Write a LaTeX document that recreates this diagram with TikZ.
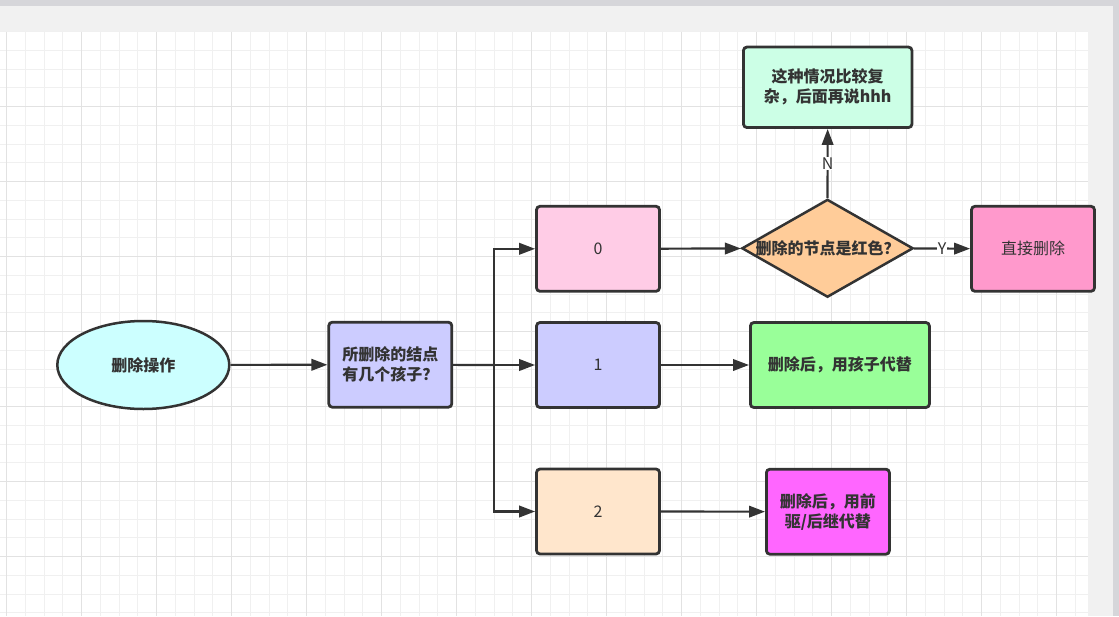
\documentclass[tikz,border=0pt]{standalone}
\usepackage{fontspec}
\newfontfamily\cjk{Noto Sans CJK SC}
\usetikzlibrary{arrows.meta,shapes.geometric,positioning,calc}
\definecolor{lineC}{HTML}{333333}
\definecolor{frameC}{HTML}{D6D6DA}
\definecolor{paneC}{HTML}{F1F1F1}
\definecolor{minorC}{HTML}{F0F0F0}
\definecolor{majorC}{HTML}{E2E2E2}

\begin{document}
\begin{tikzpicture}[x=1pt,y=-1pt,>={Triangle[length=16pt,width=11.5pt]},
  txt/.style={font=\cjk\fontsize{16}{20}\selectfont,text=lineC,align=center},
  bold/.style={font=\cjk\bfseries\fontsize{16}{20}\selectfont},
  box/.style={txt,draw=lineC,line width=2.8pt,rounded corners=3.5pt,inner sep=0pt,minimum width=123pt,minimum height=85pt},
  conn/.style={color=lineC,line width=2.2pt},
  description/.style={txt,fill=white,inner sep=1pt}]
\useasboundingbox (0,0) rectangle (1119,616);
\fill[frameC] (0,0) rectangle (1119,616);
\fill[paneC] (0,6) rectangle (1113,616);
\fill[white] (0,31.7) rectangle (1088,616);
\foreach \i in {0,...,57}
  \draw[line width=1pt,minorC] (6.7+18.75*\i,31.7) -- (6.7+18.75*\i,616);
\foreach \j in {0,...,31}
  \draw[line width=1pt,minorC] (0,31.7+18.75*\j) -- (1088,31.7+18.75*\j);
\foreach \i in {0,4,...,56}
  \draw[line width=0.9pt,majorC] (6.7+18.75*\i,31.7) -- (6.7+18.75*\i,616);
\foreach \j in {4,8,...,28}
  \draw[line width=0.9pt,majorC] (0,31.7+18.75*\j) -- (1088,31.7+18.75*\j);

\node[txt,bold,ellipse,draw=lineC,line width=2.5pt,fill={rgb,255:red,204;green,255;blue,255},minimum width=172pt,minimum height=88pt] (del) at (143.3,365) {删除操作};
\node[box,bold,fill={rgb,255:red,204;green,204;blue,255}] (ask) at (390.3,364.7) {所删除的结点\\有几个孩子？};
\node[box,fill={rgb,255:red,255;green,204;blue,230}] (zero) at (598,248.8) {0};
\node[box,fill={rgb,255:red,204;green,204;blue,255}] (one) at (598,365) {1};
\node[box,fill={rgb,255:red,255;green,230;blue,204}] (two) at (598,511.5) {2};
\node[txt,bold,diamond,aspect=1.75,draw=lineC,line width=2.5pt,fill={rgb,255:red,255;green,204;blue,153},inner sep=0pt,minimum width=171pt,minimum height=97pt] (isred) at (827.5,248.3) {删除的节点是红色？};
\node[box,bold,fill={rgb,255:red,204;green,255;blue,230},minimum width=168.5pt,minimum height=80.5pt] (later) at (827.7,87.3) {这种情况比较复\\杂，后面再说hhh};
\node[box,fill={rgb,255:red,255;green,153;blue,204}] (direct) at (1033,248.8) {直接删除};
\node[box,bold,fill={rgb,255:red,153;green,255;blue,153},minimum width=179pt] (bychild) at (839.9,365) {删除后，用孩子代替};
\node[box,bold,fill={rgb,255:red,255;green,102;blue,255}] (bysucc) at (827.9,511.7) {删除后，用前\\驱/后继代替};
\coordinate (split) at (494,365);

\path[->,conn]
(del) edge (ask)
(zero) edge (isred)
(one) edge (bychild)
(two) edge (bysucc)
(isred) edge node[description] {N} (later)
(isred) edge node[description] {Y} (direct)
(split) edge (one)
;
\draw[conn] (ask) -- (split);
\draw[->,conn] (split) |- (zero);
\draw[->,conn] (split) |- (two);
\end{tikzpicture}
\end{document}
